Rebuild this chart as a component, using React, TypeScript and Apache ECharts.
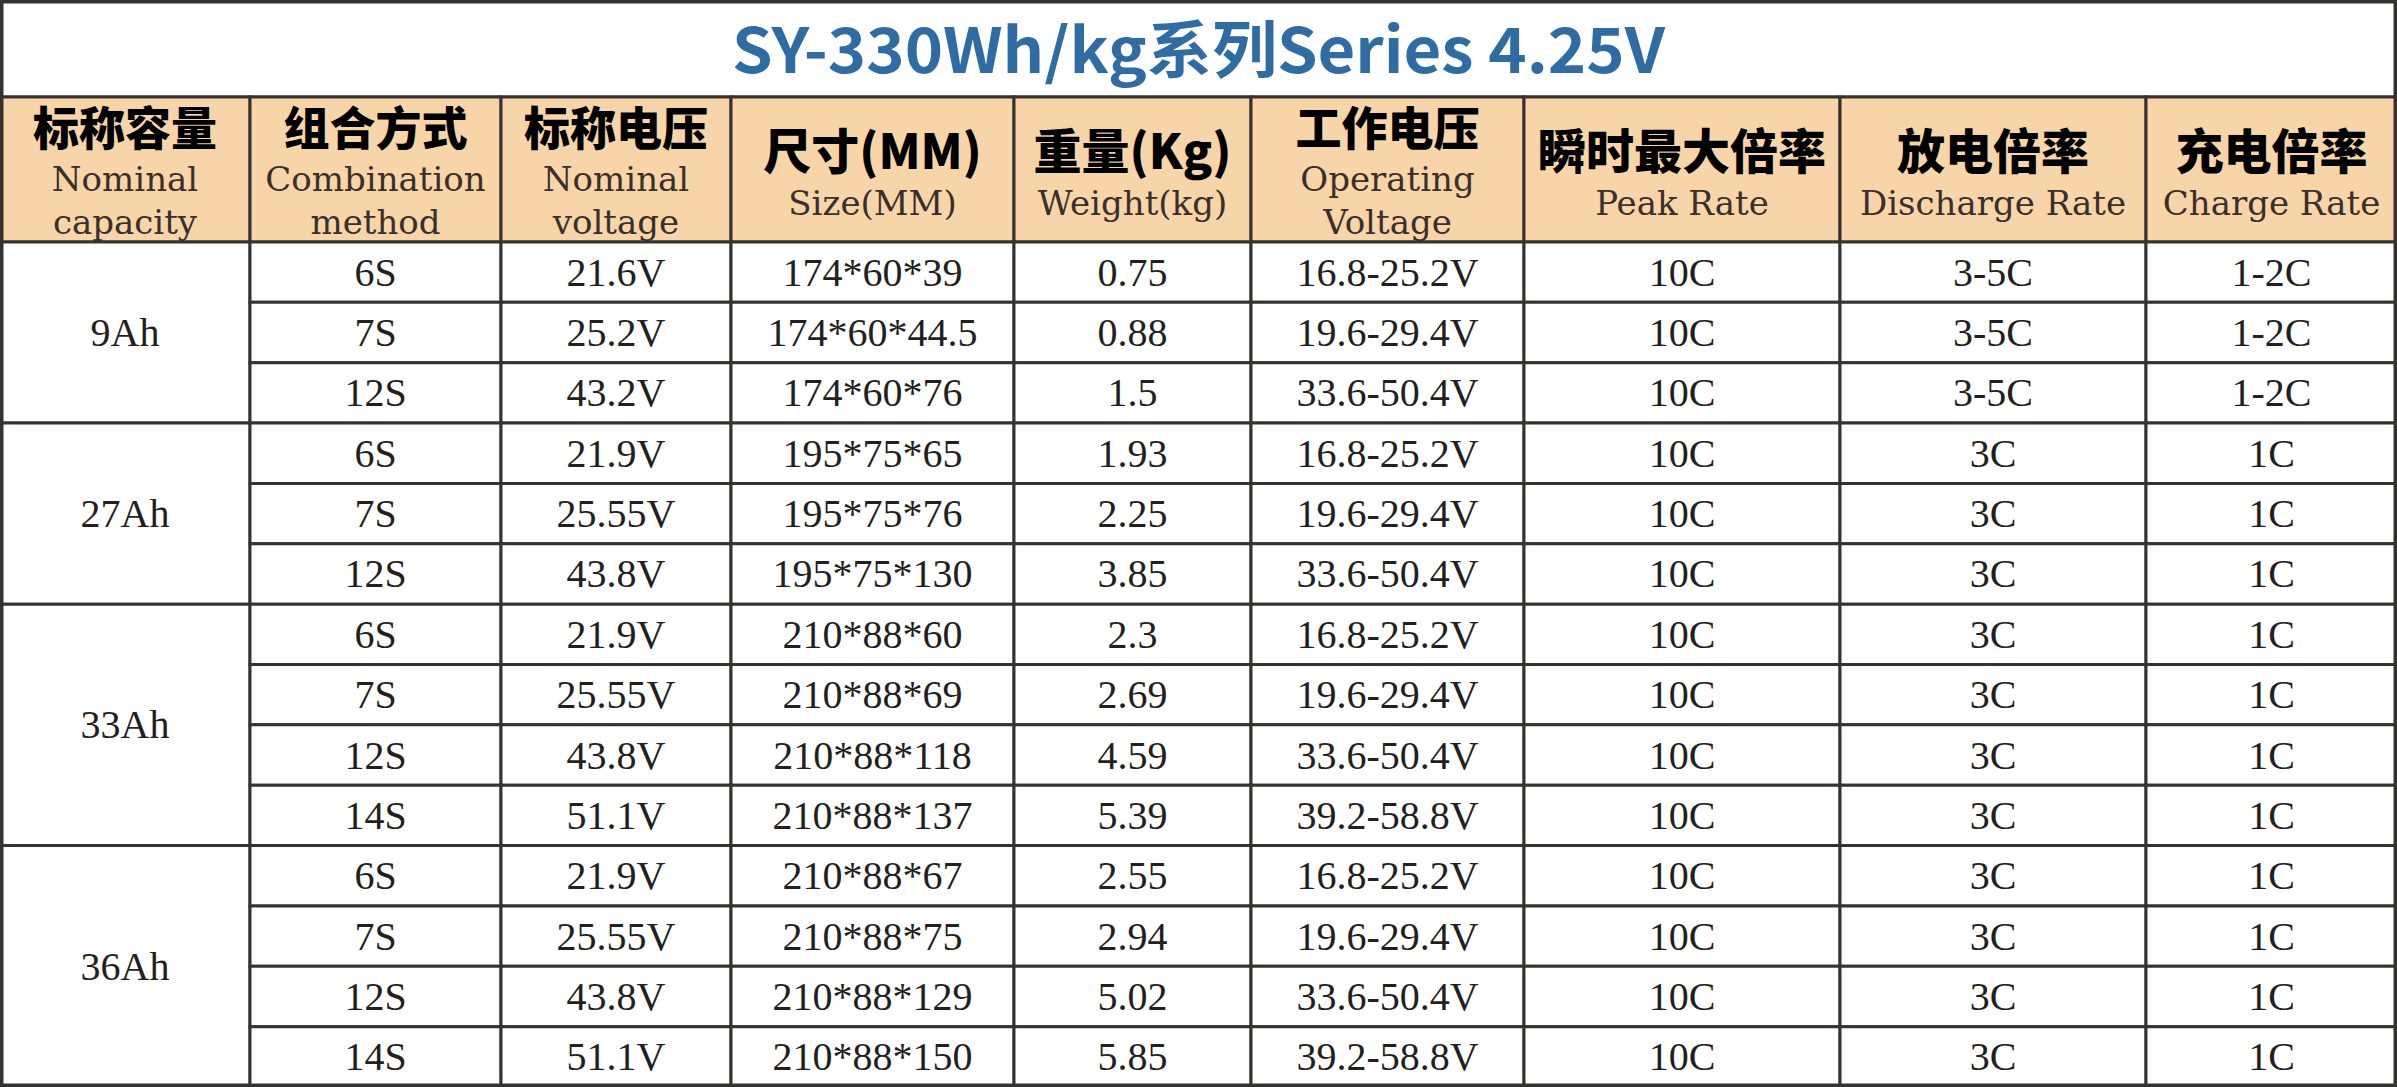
import React, { useEffect, useRef } from "react";
import * as echarts from "echarts";

// ---------- data ----------
const TITLE = "SY-330Wh/kg系列Series 4.25V";
const headerZh = ["标称容量", "组合方式", "标称电压", "尺寸(MM)", "重量(Kg)", "工作电压", "瞬时最大倍率", "放电倍率", "充电倍率"];
const headerEn = [
  ["Nominal", "capacity"],
  ["Combination", "method"],
  ["Nominal", "voltage"],
  ["Size(MM)"],
  ["Weight(kg)"],
  ["Operating", "Voltage"],
  ["Peak Rate"],
  ["Discharge Rate"],
  ["Charge Rate"],
];
const capacities = ["9Ah", "27Ah", "33Ah", "36Ah"];
const capacityRowSpan = [3, 3, 4, 4];
const combination = ["6S", "7S", "12S", "6S", "7S", "12S", "6S", "7S", "12S", "14S", "6S", "7S", "12S", "14S"];
const nominalVoltage = ["21.6V", "25.2V", "43.2V", "21.9V", "25.55V", "43.8V", "21.9V", "25.55V", "43.8V", "51.1V", "21.9V", "25.55V", "43.8V", "51.1V"];
const sizeMM = ["174*60*39", "174*60*44.5", "174*60*76", "195*75*65", "195*75*76", "195*75*130", "210*88*60", "210*88*69", "210*88*118", "210*88*137", "210*88*67", "210*88*75", "210*88*129", "210*88*150"];
const weightKg = ["0.75", "0.88", "1.5", "1.93", "2.25", "3.85", "2.3", "2.69", "4.59", "5.39", "2.55", "2.94", "5.02", "5.85"];
const operatingVoltage = ["16.8-25.2V", "19.6-29.4V", "33.6-50.4V", "16.8-25.2V", "19.6-29.4V", "33.6-50.4V", "16.8-25.2V", "19.6-29.4V", "33.6-50.4V", "39.2-58.8V", "16.8-25.2V", "19.6-29.4V", "33.6-50.4V", "39.2-58.8V"];
const peakRate = ["10C", "10C", "10C", "10C", "10C", "10C", "10C", "10C", "10C", "10C", "10C", "10C", "10C", "10C"];
const dischargeRate = ["3-5C", "3-5C", "3-5C", "3C", "3C", "3C", "3C", "3C", "3C", "3C", "3C", "3C", "3C", "3C"];
const chargeRate = ["1-2C", "1-2C", "1-2C", "1C", "1C", "1C", "1C", "1C", "1C", "1C", "1C", "1C", "1C", "1C"];

// ---------- layout ----------
const W = 2397;
const H = 1087;
const COL_EDGES = [0, 250, 501, 731, 1014, 1251, 1524, 1840, 2146, 2397];
const TITLE_BOTTOM = 97;
const HEADER_BOTTOM = 242;
const NROWS = combination.length;
const ROW_H = (H - HEADER_BOTTOM) / NROWS;

const LINE = "#363232";
const HEADER_BG = "#f8d5a8";
const TITLE_COLOR = "#2f6ca4";
const TEXT = "#231f20";
const EN_COLOR = "#3a2f2b";

type Cell = { x0: number; x1: number; y0: number; y1: number; kind: string; text?: string; en?: string[] };

function buildCells(): Cell[] {
  const cells: Cell[] = [];
  cells.push({ x0: 0, x1: W, y0: 0, y1: TITLE_BOTTOM, kind: "title", text: TITLE });
  for (let c = 0; c < headerZh.length; c++) {
    cells.push({ x0: COL_EDGES[c], x1: COL_EDGES[c + 1], y0: TITLE_BOTTOM, y1: HEADER_BOTTOM, kind: "header", text: headerZh[c], en: headerEn[c] });
  }
  let r = 0;
  capacities.forEach((cap, i) => {
    const span = capacityRowSpan[i];
    cells.push({ x0: COL_EDGES[0], x1: COL_EDGES[1], y0: HEADER_BOTTOM + r * ROW_H, y1: HEADER_BOTTOM + (r + span) * ROW_H, kind: "data", text: cap });
    r += span;
  });
  const cols = [combination, nominalVoltage, sizeMM, weightKg, operatingVoltage, peakRate, dischargeRate, chargeRate];
  for (let row = 0; row < NROWS; row++) {
    cols.forEach((arr, ci) => {
      cells.push({ x0: COL_EDGES[ci + 1], x1: COL_EDGES[ci + 2], y0: HEADER_BOTTOM + row * ROW_H, y1: HEADER_BOTTOM + (row + 1) * ROW_H, kind: "data", text: arr[row] });
    });
  }
  cells.push({ x0: 0, x1: W, y0: 0, y1: H, kind: "frame" });
  return cells;
}

export default function App() {
  const ref = useRef<HTMLDivElement>(null);
  useEffect(() => {
    if (!ref.current) return;
    const chart = echarts.init(ref.current, undefined, { renderer: "svg" });
    const cells = buildCells();
    const data = cells.map((c, i) => [c.x0, c.x1, c.y0, c.y1, i]);
    chart.setOption({
      animation: false,
      backgroundColor: "#ffffff",
      grid: { left: 0, right: 0, top: 0, bottom: 0, containLabel: false },
      xAxis: { type: "value", min: 0, max: W, show: false },
      yAxis: { type: "value", min: 0, max: H, inverse: true, show: false },
      series: [
        {
          type: "custom",
          clip: false,
          data,
          renderItem: (params: any, api: any) => {
            const c = cells[api.value(4)];
            const p0 = api.coord([api.value(0), api.value(2)]);
            const p1 = api.coord([api.value(1), api.value(3)]);
            const x = p0[0];
            const y = p0[1];
            const w = p1[0] - p0[0];
            const h = p1[1] - p0[1];
            const cx = x + w / 2;
            const cy = y + h / 2;
            if (c.kind === "frame") {
              return { type: "rect", shape: { x, y, width: w, height: h }, style: { fill: "none", stroke: LINE, lineWidth: 7 } };
            }
            const children: any[] = [
              {
                type: "rect",
                shape: { x, y, width: w, height: h },
                style: { fill: c.kind === "header" ? HEADER_BG : "#ffffff", stroke: LINE, lineWidth: 3 },
              },
            ];
            if (c.kind === "title") {
              children.push({
                type: "text",
                x: cx,
                y: cy - 3,
                originX: 0,
                originY: 0,
                scaleX: 1.05,
                style: {
                  text: c.text,
                  fill: TITLE_COLOR,
                  fontSize: 62,
                  fontWeight: "bold",
                  fontFamily: "'Noto Sans CJK SC', 'Noto Sans', sans-serif",
                  align: "center",
                  verticalAlign: "middle",
                },
              });
            } else if (c.kind === "header") {
              const en = c.en || [];
              const multi = en.length > 1;
              const zhY = multi ? cy - 45 : cy - 22;
              children.push({
                type: "text",
                x: cx,
                y: zhY,
                style: {
                  text: c.text,
                  fill: "#000000",
                  fontSize: multi ? 46 : 48,
                  fontWeight: 900,
                  fontFamily: "'Noto Sans CJK SC', sans-serif",
                  align: "center",
                  verticalAlign: "middle",
                },
              });
              en.forEach((line, li) => {
                const ly = multi ? cy + 9 + li * 43 : cy + 33;
                children.push({
                  type: "text",
                  x: cx,
                  y: ly,
                  style: {
                    text: line,
                    fill: EN_COLOR,
                    fontSize: 34,
                    fontFamily: "'DejaVu Serif', serif",
                    align: "center",
                    verticalAlign: "middle",
                  },
                });
              });
            } else {
              children.push({
                type: "text",
                x: cx,
                y: cy,
                style: {
                  text: c.text,
                  fill: TEXT,
                  fontSize: 40,
                  fontFamily: "'Liberation Serif', 'DejaVu Serif', serif",
                  align: "center",
                  verticalAlign: "middle",
                },
              });
            }
            return { type: "group", children };
          },
        },
      ],
    });
    return () => chart.dispose();
  }, []);
  return <div ref={ref} style={{ position: "fixed", left: 0, top: 0, width: W, height: H }} />;
}
